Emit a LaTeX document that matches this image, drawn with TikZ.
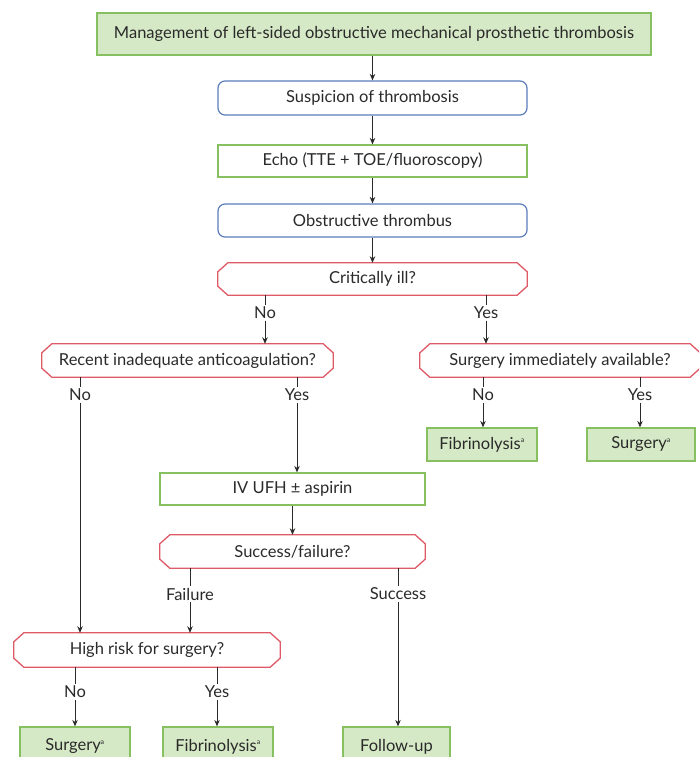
\documentclass[tikz,border=0pt]{standalone}
\usepackage{fontspec}
\setmainfont{Lato}
\usetikzlibrary{arrows.meta}
\definecolor{gfill}{HTML}{D6E9C6}
\definecolor{gline}{HTML}{86C060}
\definecolor{bline}{HTML}{5B7DBB}
\definecolor{rline}{HTML}{DE5A66}
\definecolor{txt}{HTML}{2A2A2A}
\newcommand\octa[1]{\draw[rline,line width=1.3pt]
 ([xshift=10pt]#1.north west) -- ([xshift=-10pt]#1.north east) -- ([yshift=-9pt]#1.north east) --
 ([yshift=9pt]#1.south east) -- ([xshift=-10pt]#1.south east) -- ([xshift=10pt]#1.south west) --
 ([yshift=9pt]#1.south west) -- ([yshift=-9pt]#1.north west) -- cycle;}
\newcommand\supa{\textsuperscript{\fontsize{7}{8}\selectfont a}}
\begin{document}
\begin{tikzpicture}[x=1pt,y=1pt,
 every node/.style={text=txt,font=\fontsize{16.5}{18}\selectfont,inner sep=0pt},
 gbox/.style={draw=gline,fill=gfill,line width=1.2pt},
 wgbox/.style={draw=gline,fill=white,line width=1.2pt},
 bbox/.style={draw=bline,rounded corners=7pt,line width=1.2pt},
 lbl/.style={fill=white,inner sep=1.5pt},
 arr/.style={-{Stealth[length=6.5pt,width=5.5pt]},line width=1pt,txt},
 ln/.style={line width=1pt,txt}]
\useasboundingbox (0,0) rectangle (699,-757);
\clip (0,0) rectangle (699,-757);
\node[gbox,minimum width=554pt,minimum height=42pt] (top) at (374,-34) {Management of left-sided obstructive mechanical prosthetic thrombosis};
\node[bbox,minimum width=309pt,minimum height=34pt] (susp) at (372.5,-98) {Suspicion of thrombosis};
\node[wgbox,minimum width=309pt,minimum height=32pt] (echo) at (372.5,-161) {Echo (TTE + TOE/fluoroscopy)};
\node[bbox,minimum width=309pt,minimum height=33pt] (obst) at (372.5,-220.5) {Obstructive thrombus};
\node[minimum width=309pt,minimum height=32pt] (crit) at (372.5,-279) {Critically ill?};
\octa{crit}
\node[minimum width=291pt,minimum height=33pt] (recent) at (187.5,-360.5) {Recent inadequate anticoagulation?};
\octa{recent}
\node[minimum width=280pt,minimum height=33pt] (surgav) at (560,-360.5) {Surgery immediately available?};
\octa{surgav}
\node[gbox,minimum width=110pt,minimum height=33pt] (fib1) at (482,-444.5) {Fibrinolysis\supa};
\node[gbox,minimum width=108pt,minimum height=33pt] (surg1) at (641,-444.5) {Surgery\supa};
\node[wgbox,minimum width=265pt,minimum height=32pt] (iv) at (292.5,-489) {IV UFH ± aspirin};
\node[minimum width=265pt,minimum height=33pt] (sf) at (292.5,-551.5) {Success/failure?};
\octa{sf}
\node[minimum width=266pt,minimum height=34pt] (hr) at (147,-650) {High risk for surgery?};
\octa{hr}
\node[gbox,minimum width=110pt,minimum height=40pt] (surg2) at (75,-747) {\raisebox{4pt}{Surgery\supa}};
\node[gbox,minimum width=110pt,minimum height=40pt] (fib2) at (218,-747) {\raisebox{4pt}{Fibrinolysis\supa}};
\node[gbox,minimum width=107pt,minimum height=40pt] (fol) at (396.5,-747) {\raisebox{4pt}{Follow-up}};
% labels
\node[lbl] (l1) at (265,-313) {No};
\node[lbl] (l2) at (486,-313) {Yes};
\node[lbl] (l3) at (80,-395) {No};
\node[lbl] (l4) at (297,-395) {Yes};
\node[lbl] (l5) at (483,-395) {No};
\node[lbl] (l6) at (640,-395) {Yes};
\node[lbl] (l7) at (190,-594) {Failure};
\node[lbl] (l8) at (398,-594) {Success};
\node[lbl] (l9) at (75,-692) {No};
\node[lbl] (l10) at (217,-692) {Yes};
% connectors
\draw[arr] (top.south -| susp) -- (susp);
\draw[arr] (susp) -- (echo);
\draw[arr] (echo) -- (obst);
\draw[arr] (obst) -- (crit);
\foreach \a/\l/\b in {crit/l1/recent, crit/l2/surgav, recent/l3/hr, recent/l4/iv, surgav/l5/fib1, surgav/l6/surg1, sf/l7/hr, sf/l8/fol, hr/l9/surg2, hr/l10/fib2}{
 \draw[ln] (\a.south -| \l) -- (\l.north);
 \draw[arr] (\l.south) -- (\b.north -| \l);
}
\draw[arr] (iv) -- (iv.south |- sf.north);
\end{tikzpicture}
\end{document}
